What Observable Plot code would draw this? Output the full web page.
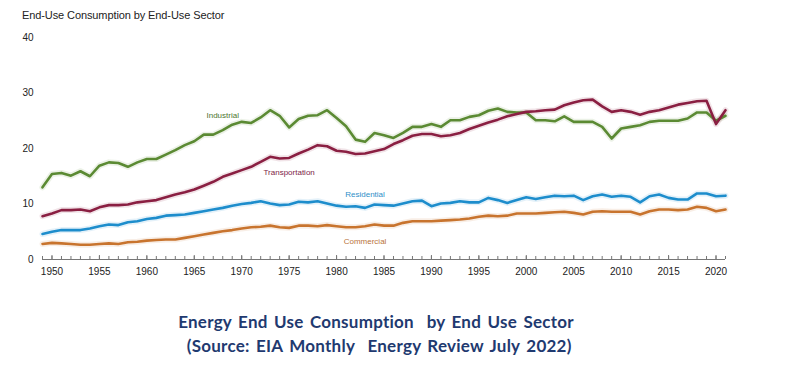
<!DOCTYPE html>
<html>
<head>
<meta charset="utf-8">
<script src="https://cdn.jsdelivr.net/npm/d3@7"></script>
<script src="https://cdn.jsdelivr.net/npm/@observablehq/plot@0.6"></script>
<style>
  html, body { margin: 0; padding: 0; background: #fff; }
  #wrap { position: relative; width: 800px; height: 377px; overflow: hidden; }
  #title { position: absolute; left: 22px; top: 9px; font: 11px "Liberation Sans", Arial, sans-serif; color: #222; letter-spacing: -0.1px; }
  #chart { position: absolute; left: 0; top: 0; }
  #caption { position: absolute; left: 0; width: 752px; top: 310px; text-align: center;
    font: bold 17px Lato, "Open Sans", sans-serif; color: #1f3a70; line-height: 24px; word-spacing: 2px; letter-spacing: 0.25px; }
</style>
</head>
<body>
<div id="wrap">
  <div id="chart"></div>
  <div id="title">End-Use Consumption by End-Use Sector</div>
  <div id="caption">Energy End Use Consumption&nbsp; by End Use Sector<br>&nbsp;(Source: EIA Monthly&nbsp; Energy Review July 2022)</div>
</div>
<script>
const years = d3.range(1949, 2022);
const sectors = ["Industrial", "Transportation", "Residential", "Commercial"];
const industrial = [
  13.0, 15.4, 15.6, 15.1, 15.9, 15.0, 16.9, 17.5, 17.4, 16.7,
  17.5, 18.1, 18.1, 18.9, 19.7, 20.6, 21.3, 22.5, 22.5, 23.3,
  24.3, 24.8, 24.6, 25.6, 26.9, 25.9, 23.8, 25.3, 25.9, 26.0,
  26.9, 25.5, 24.0, 21.6, 21.2, 22.8, 22.4, 21.9, 22.8, 23.9,
  23.9, 24.4, 23.9, 25.1, 25.1, 25.7, 26.0, 26.8, 27.2, 26.6,
  26.5, 26.5, 25.1, 25.1, 24.9, 25.8, 24.8, 24.8, 24.8, 23.9,
  21.8, 23.6, 23.9, 24.2, 24.8, 25.0, 25.0, 25.0, 25.4, 26.5,
  26.5, 25.0, 25.9];
const transportation = [
  7.8, 8.3, 8.9, 8.9, 9.0, 8.7, 9.4, 9.8, 9.8, 9.9,
  10.3, 10.5, 10.7, 11.2, 11.7, 12.1, 12.6, 13.3, 14.0, 14.9,
  15.5, 16.1, 16.7, 17.6, 18.5, 18.2, 18.3, 19.1, 19.8, 20.6,
  20.4, 19.6, 19.4, 19.0, 19.1, 19.5, 19.9, 20.8, 21.5, 22.3,
  22.6, 22.6, 22.2, 22.4, 22.8, 23.5, 24.1, 24.7, 25.2, 25.8,
  26.2, 26.6, 26.7, 26.9, 27.0, 27.8, 28.3, 28.7, 28.8, 27.6,
  26.6, 26.9, 26.6, 26.1, 26.6, 26.9, 27.4, 27.9, 28.2, 28.5,
  28.6, 24.4, 26.9];
const residential = [
  4.6, 5.0, 5.3, 5.3, 5.3, 5.6, 6.0, 6.3, 6.2, 6.7,
  6.9, 7.3, 7.5, 7.9, 8.0, 8.1, 8.4, 8.7, 9.0, 9.3,
  9.7, 10.0, 10.2, 10.5, 10.1, 9.8, 9.9, 10.4, 10.3, 10.5,
  10.1, 9.7, 9.5, 9.6, 9.3, 9.9, 9.8, 9.7, 10.1, 10.5,
  10.6, 9.6, 10.1, 10.2, 10.5, 10.3, 10.3, 11.1, 10.7, 10.2,
  10.7, 11.2, 10.9, 11.2, 11.5, 11.4, 11.5, 10.7, 11.4, 11.7,
  11.3, 11.5, 11.3, 10.3, 11.4, 11.7, 11.1, 10.8, 10.8, 11.9,
  11.9, 11.4, 11.5];
const commercial = [
  2.8, 3.0, 2.9, 2.8, 2.65, 2.65, 2.8, 2.9, 2.8, 3.1,
  3.2, 3.4, 3.5, 3.6, 3.6, 3.9, 4.2, 4.5, 4.8, 5.1,
  5.3, 5.6, 5.8, 5.9, 6.1, 5.8, 5.7, 6.1, 6.1, 6.0,
  6.2, 6.0, 5.8, 5.8, 6.0, 6.3, 6.1, 6.1, 6.6, 6.9,
  6.9, 6.9, 7.0, 7.1, 7.2, 7.4, 7.7, 7.9, 7.8, 7.9,
  8.3, 8.3, 8.3, 8.4, 8.5, 8.6, 8.4, 8.1, 8.6, 8.7,
  8.6, 8.6, 8.6, 8.1, 8.7, 9.0, 9.0, 8.9, 9.0, 9.5,
  9.3, 8.7, 9.0];
const yTicks = [0, 10, 20, 30, 40];
const xTicks = d3.range(1950, 2021, 5);
// label anchor positions (year, value) for the in-chart series labels
const labelYears = [1968, 1975, 1983, 1983];
const labelValues = [26.0, 15.6, 11.75, 3.25];

const colors = ["#5b8a33", "#8a1f42", "#1d8dcc", "#c8742e"];
const labelColors = ["#4d7530", "#7d2447", "#2f8fc8", "#b9733a"];

const series = [industrial, transportation, residential, commercial];
const rows = [];
sectors.forEach((s, i) => years.forEach((yr, j) => rows.push({sector: s, year: yr, value: series[i][j]})));
const labelMarks = sectors.map((s, i) =>
  Plot.text([{sector: s, year: labelYears[i], value: labelValues[i]}],
    {x: "year", y: "value", text: "sector", fill: labelColors[i], fontSize: 8}));

const plot = Plot.plot({
  width: 800,
  height: 290,
  marginLeft: 42,
  marginRight: 75,
  marginTop: 37,
  marginBottom: 31,
  style: {background: "transparent", fontFamily: "'Liberation Sans', Arial, sans-serif"},
  x: {domain: [1949, 2021]},
  y: {domain: [0, 40]},
  color: {domain: sectors, range: colors},
  marks: [
    Plot.axisY({ticks: yTicks, tickSize: 0, tickPadding: 9, label: null, fontSize: 10, color: "#222"}),
    Plot.axisX({ticks: years, tickSize: -3, tickFormat: () => "", label: null, stroke: "#777"}),
    Plot.axisX({ticks: xTicks, tickSize: -4, tickPadding: 12, tickFormat: d => String(d), label: null, fontSize: 10, color: "#222", stroke: "#777"}),
    Plot.ruleY([0], {stroke: "#777", strokeWidth: 1}),
    Plot.line(rows, {x: "year", y: "value", z: "sector", stroke: "sector", strokeWidth: 6, strokeOpacity: 0.12}),
    Plot.line(rows, {x: "year", y: "value", z: "sector", stroke: "sector", strokeWidth: 2.6, strokeLinejoin: "round"}),
    ...labelMarks
  ]
});
document.getElementById("chart").appendChild(plot);
</script>
</body>
</html>
